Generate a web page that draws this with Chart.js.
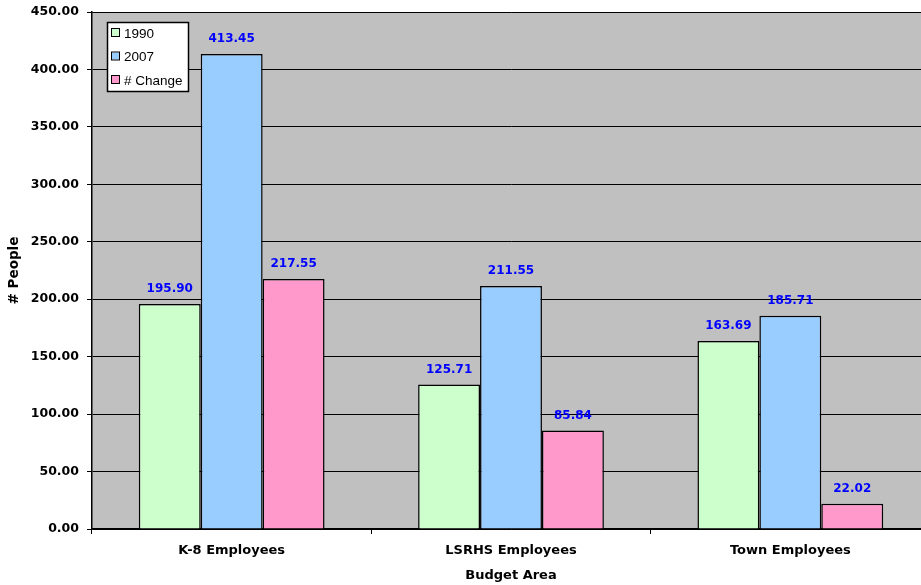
<!DOCTYPE html>
<html>
<head>
<meta charset="utf-8">
<script src="https://cdn.jsdelivr.net/npm/chart.js@4.4.1/dist/chart.umd.min.js"></script>
<style>
  html, body { margin: 0; padding: 0; background: #fff; overflow: hidden; }
  #wrap { width: 930px; height: 585px; }
</style>
</head>
<body>
<div id="wrap"><canvas id="chart"></canvas></div>
<script>
const categories = ['K-8 Employees', 'LSRHS Employees', 'Town Employees'];
const seriesNames = ['1990', '2007', '# Change'];
const values1990 = [195.90, 125.71, 163.69];
const values2007 = [413.45, 211.55, 185.71];
const valuesChange = [217.55, 85.84, 22.02];
const yTicks = [0, 50, 100, 150, 200, 250, 300, 350, 400, 450];

const colors = ['#ccffcc', '#99ccff', '#ff99cc'];

// Blue value labels above each bar
const valueLabels = {
  id: 'valueLabels',
  afterDatasetsDraw(chart) {
    const ctx = chart.ctx;
    ctx.save();
    ctx.font = 'bold 12px "DejaVu Sans"';
    ctx.fillStyle = '#0000ff';
    ctx.textAlign = 'center';
    ctx.textBaseline = 'middle';
    chart.data.datasets.forEach((ds, i) => {
      chart.getDatasetMeta(i).data.forEach((bar, j) => {
        ctx.fillText(ds.data[j].toFixed(2), bar.x, bar.y - 15);
      });
    });
    ctx.restore();
  },
};

// Grey plot background and the boxed legend inside the plot
const plotDecor = {
  id: 'plotDecor',
  beforeDraw(chart) {
    const { ctx, chartArea: a } = chart;
    ctx.save();
    ctx.fillStyle = '#c0c0c0';
    ctx.fillRect(a.left, a.top, a.right - a.left, a.bottom - a.top);
    ctx.strokeStyle = '#808080';
    ctx.lineWidth = 1;
    ctx.beginPath();
    ctx.moveTo(a.left, a.top + 0.5);
    ctx.lineTo(a.right, a.top + 0.5);
    ctx.stroke();
    ctx.restore();
  },
  afterDraw(chart) {
    const ctx = chart.ctx;
    const x = 107, y = 22, w = 81, h = 69;
    ctx.save();
    ctx.fillStyle = '#fff';
    ctx.fillRect(x, y, w, h);
    ctx.strokeStyle = '#000';
    ctx.lineWidth = 1.5;
    ctx.strokeRect(x + 0.5, y + 0.5, w, h);
    ctx.font = '13.5px "Liberation Sans"';
    ctx.textBaseline = 'middle';
    seriesNames.forEach((name, i) => {
      const cy = 33 + i * 23.5;
      ctx.fillStyle = colors[i];
      ctx.fillRect(112, cy - 4, 7, 7);
      ctx.lineWidth = 1;
      ctx.strokeStyle = '#000';
      ctx.strokeRect(111.5, cy - 4.5, 8, 8);
      ctx.fillStyle = '#000';
      ctx.fillText(name, 124, cy + 1);
    });
    ctx.restore();
  },
};

const ctx = document.getElementById('chart').getContext('2d');
new Chart(ctx, {
  type: 'bar',
  data: {
    labels: categories,
    datasets: [
      { label: seriesNames[0], data: values1990, backgroundColor: colors[0] },
      { label: seriesNames[1], data: values2007, backgroundColor: colors[1] },
      { label: seriesNames[2], data: valuesChange, backgroundColor: colors[2] },
    ].map(d => Object.assign(d, { borderColor: '#000', borderWidth: 1.5, borderSkipped: 'bottom' })),
  },
  options: {
    responsive: true,
    maintainAspectRatio: false,
    animation: false,
    devicePixelRatio: 1,
    categoryPercentage: 0.665,
    barPercentage: 1.0,
    layout: { padding: { left: 6, top: 12, right: 0, bottom: 2 } },
    plugins: {
      legend: { display: false },
      tooltip: { enabled: false },
    },
    scales: {
      x: {
        afterFit: s => { s.height = 54; s.paddingLeft = 0; s.paddingRight = 0; },
        grid: { offset: true, drawOnChartArea: false, color: '#000', tickLength: 5 },
        border: { color: '#000', width: 1.5 },
        ticks: { color: '#000', padding: 9, font: { family: 'DejaVu Sans', size: 13, weight: 'bold' } },
        title: { display: true, text: 'Budget Area', color: '#000', padding: 0, font: { family: 'DejaVu Sans', size: 13, weight: 'bold' } },
      },
      y: {
        min: 0,
        max: 450,
        afterFit: s => { s.width = 86; s.paddingTop = 0; s.paddingBottom = 0; },
        afterBuildTicks: s => { s.ticks = yTicks.map(v => ({ value: v })); },
        grid: { color: '#000', lineWidth: 1, tickLength: 5 },
        border: { color: '#000', width: 1.5 },
        ticks: {
          color: '#000',
          padding: 8,
          font: { family: 'DejaVu Sans', size: 12.5, weight: 'bold' },
          callback: v => Number(v).toFixed(2),
        },
        title: { display: true, text: '# People', color: '#000', padding: 0, font: { family: 'DejaVu Sans', size: 13.5, weight: 'bold' } },
      },
    },
  },
  plugins: [plotDecor, valueLabels],
});
</script>
</body>
</html>
